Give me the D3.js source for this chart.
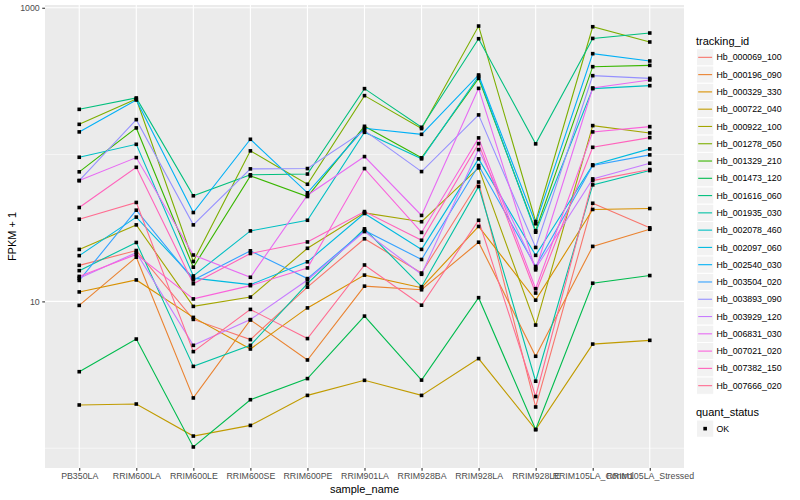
<!DOCTYPE html>
<html><head><meta charset="utf-8">
<script src="https://cdn.jsdelivr.net/npm/d3@7"></script>
<style>
body{margin:0;background:#fff;}
svg{display:block;font-family:"Liberation Sans",Arial,Helvetica,sans-serif;}
</style>
</head><body>
<svg id="chart" width="800" height="500"></svg>
<script>
// ---------------- data ----------------
const categories = ["PB350LA","RRIM600LA","RRIM600LE","RRIM600SE","RRIM600PE","RRIM901LA","RRIM928BA","RRIM928LA","RRIM928LE","RRIM105LA_Control","RRIM105LA_Stressed"];
const trackingIds = ["Hb_000069_100","Hb_000196_090","Hb_000329_330","Hb_000722_040","Hb_000922_100","Hb_001278_050","Hb_001329_210","Hb_001473_120","Hb_001616_060","Hb_001935_030","Hb_002078_460","Hb_002097_060","Hb_002540_030","Hb_003504_020","Hb_003893_090","Hb_003929_120","Hb_006831_030","Hb_007021_020","Hb_007382_150","Hb_007666_020"];

const Hb_000069_100 = [17.6,22.2,7.54,5.49,12.5,26.7,15.6,65.0,1.91,46.6,31.7];
const Hb_000196_090 = [9.39,20.0,2.20,7.48,3.99,12.7,12.0,25.3,4.23,23.7,31.0];
const Hb_000329_330 = [11.6,14.0,7.78,4.74,9.03,15.1,12.4,32.4,10.2,42.3,42.9];
const Hb_000722_040 = [1.97,2.00,1.21,1.43,2.29,2.90,2.29,4.08,1.34,5.12,5.43];
const Hb_000922_100 = [22.6,33.2,9.25,10.7,23.0,40.1,34.9,81.2,6.90,157.5,140.4];
const Hb_001278_050 = [160.7,239.2,18.7,106.0,62.8,252,150.3,750.6,35.0,742.5,584.5];
const Hb_001329_210 = [76.3,151.9,17.1,71.6,51.8,155.8,95.0,330.4,30.3,396.8,405.0];
const Hb_001473_120 = [3.32,5.54,1.02,2.14,2.98,7.94,2.91,10.6,1.34,13.3,15.0];
const Hb_001616_060 = [203.3,243.0,52.4,72.8,73.7,281.2,153.4,615.3,118.3,618.3,672.9];
const Hb_001935_030 = [16.2,25.2,3.61,5.02,13.2,31.2,12.6,60.6,2.86,62.2,77.8];
const Hb_002078_460 = [95.9,117.5,14.9,30.2,35.7,141.8,93.5,341.0,29.6,281.2,294.7];
const Hb_002097_060 = [20.5,37.5,14.4,13.0,18.6,39.7,22.6,93.5,20.6,85.1,109.3];
const Hb_002540_030 = [142.7,235.5,40.3,127.1,54.9,151.0,137.4,348.5,33.8,486.6,433.9];
const Hb_003504_020 = [13.9,41.8,14.0,22.1,14.3,30.4,19.3,84.2,17.3,84.2,99.5];
const Hb_003893_090 = [66.5,173.0,33.2,79.9,80.3,145.6,76.6,186.3,23.3,344.7,330.4];
const Hb_003929_120 = [14.4,21.5,5.02,7.52,14.0,29.9,15.3,108.1,16.8,68.3,87.3];
const Hb_006831_030 = [66.5,95.4,20.7,14.6,52.9,96.9,38.5,282.5,16.4,284.2,322.3];
const Hb_007021_020 = [14.8,20.9,10.4,12.8,16.9,80.3,29.5,129.9,12.2,142.7,155.0];
const Hb_007382_150 = [43.6,81.9,13.2,21.2,25.4,40.9,26.1,118.8,11.4,112.1,130.5];
const Hb_007666_020 = [36.3,47.2,4.55,8.82,5.58,17.7,9.42,35.7,2.25,66.5,79.1];

const seriesValues = [Hb_000069_100,Hb_000196_090,Hb_000329_330,Hb_000722_040,Hb_000922_100,Hb_001278_050,Hb_001329_210,Hb_001473_120,Hb_001616_060,Hb_001935_030,Hb_002078_460,Hb_002097_060,Hb_002540_030,Hb_003504_020,Hb_003893_090,Hb_003929_120,Hb_006831_030,Hb_007021_020,Hb_007382_150,Hb_007666_020];

const yTicks = [10, 1000];
const yMinorTicks = [1, 100];
const quantStatus = ["OK"];

// ---------------- style ----------------
const palette = ["#F8766D","#EA8331","#D89000","#C09B00","#A3A500","#7CAE00","#39B600","#00BB4E","#00BF7D","#00C1A3","#00BFC4","#00BAE0","#00B0F6","#35A2FF","#9590FF","#C77CFF","#E76BF3","#FA62DB","#FF62BC","#FF6C91"];

const svg = d3.select("#chart");
const panel = {left: 45, right: 684, top: 5, bottom: 468};

const x = d3.scalePoint().domain(categories).range([panel.left, panel.right]).padding(0.6);

const allVals = seriesValues.flat();
const lmin = Math.log10(d3.min(allVals)), lmax = Math.log10(d3.max(allVals));
const ex = (lmax - lmin) * 0.05;
const y = d3.scaleLog().domain([Math.pow(10, lmin - ex), Math.pow(10, lmax + ex)]).range([panel.bottom, panel.top]);

// panel background
svg.append("rect").attr("x", panel.left).attr("y", panel.top)
  .attr("width", panel.right - panel.left).attr("height", panel.bottom - panel.top)
  .attr("fill", "#EBEBEB");

const grid = svg.append("g");
grid.selectAll(".ymin").data(yMinorTicks).join("line")
  .attr("x1", panel.left).attr("x2", panel.right)
  .attr("y1", d => y(d)).attr("y2", d => y(d))
  .attr("stroke", "#fff").attr("stroke-width", 0.55);
grid.selectAll(".ymaj").data(yTicks).join("line")
  .attr("x1", panel.left).attr("x2", panel.right)
  .attr("y1", d => y(d)).attr("y2", d => y(d))
  .attr("stroke", "#fff").attr("stroke-width", 1.1);
grid.selectAll(".xmaj").data(categories).join("line")
  .attr("y1", panel.top).attr("y2", panel.bottom)
  .attr("x1", d => x(d)).attr("x2", d => x(d))
  .attr("stroke", "#fff").attr("stroke-width", 1.1);

// lines
const line = d3.line().x((d, i) => x(categories[i])).y(d => y(d));
svg.append("g").selectAll("path").data(seriesValues).join("path")
  .attr("d", d => line(d))
  .attr("fill", "none")
  .attr("stroke", (d, i) => palette[i])
  .attr("stroke-width", 1.1);

// points
const pts = [];
seriesValues.forEach((s, si) => s.forEach((v, ci) => pts.push({c: categories[ci], v})));
svg.append("g").selectAll("rect").data(pts).join("rect")
  .attr("x", d => x(d.c) - 1.8).attr("y", d => y(d.v) - 1.8)
  .attr("width", 3.6).attr("height", 3.6).attr("fill", "#000");

// axes
const xAxis = svg.append("g").attr("transform", `translate(0,${panel.bottom})`)
  .call(d3.axisBottom(x).tickSize(2.75).tickPadding(2.5));
const yAxis = svg.append("g").attr("transform", `translate(${panel.left},0)`)
  .call(d3.axisLeft(y).tickValues(yTicks).tickFormat(d3.format("d")).tickSize(2.75).tickPadding(2.5));
[xAxis, yAxis].forEach(a => {
  a.select(".domain").remove();
  a.selectAll(".tick line").attr("stroke", "#333333").attr("stroke-width", 1.1);
  a.selectAll(".tick text").attr("fill", "#4D4D4D").style("font-size", "8.8px")
   .style("font-family", '"Liberation Sans",Arial,Helvetica,sans-serif');
});

// axis titles
svg.append("text").attr("x", (panel.left + panel.right) / 2).attr("y", 493)
  .attr("text-anchor", "middle").style("font-size", "11px").attr("fill", "#000").text("sample_name");
svg.append("text").attr("transform", `translate(16,${(panel.top + panel.bottom) / 2}) rotate(-90)`)
  .attr("text-anchor", "middle").style("font-size", "11px").attr("fill", "#000").text("FPKM + 1");

// legend: tracking_id
const lg = svg.append("g");
const keyX = 696.5, keyW = 17.28, key0 = 48.7;
lg.append("text").attr("x", 696).attr("y", 44.5).style("font-size", "11px").text("tracking_id");
trackingIds.forEach((id, i) => {
  const ky = key0 + i * 17.28;
  lg.append("rect").attr("x", keyX).attr("y", ky).attr("width", keyW).attr("height", keyW)
    .attr("fill", "#F2F2F2").attr("stroke", "#fff").attr("stroke-width", 1);
  lg.append("line").attr("x1", keyX + 1.7).attr("x2", keyX + keyW - 1.7)
    .attr("y1", ky + keyW / 2).attr("y2", ky + keyW / 2)
    .attr("stroke", palette[i]).attr("stroke-width", 1.1);
  lg.append("text").attr("x", 716.5).attr("y", ky + keyW / 2 + 3.1)
    .style("font-size", "8.8px").attr("fill", "#000").text(id);
});

// legend: quant_status
lg.append("text").attr("x", 696).attr("y", 416.3).style("font-size", "11px").text("quant_status");
quantStatus.forEach((q, i) => {
  const ky = 420 + i * 17.28;
  lg.append("rect").attr("x", keyX).attr("y", ky).attr("width", keyW).attr("height", keyW)
    .attr("fill", "#F2F2F2").attr("stroke", "#fff").attr("stroke-width", 1);
  lg.append("rect").attr("x", keyX + keyW / 2 - 1.8).attr("y", ky + keyW / 2 - 1.8)
    .attr("width", 3.6).attr("height", 3.6).attr("fill", "#000");
  lg.append("text").attr("x", 716.5).attr("y", ky + keyW / 2 + 3.1)
    .style("font-size", "8.8px").attr("fill", "#000").text(q);
});
</script>
</body></html>
